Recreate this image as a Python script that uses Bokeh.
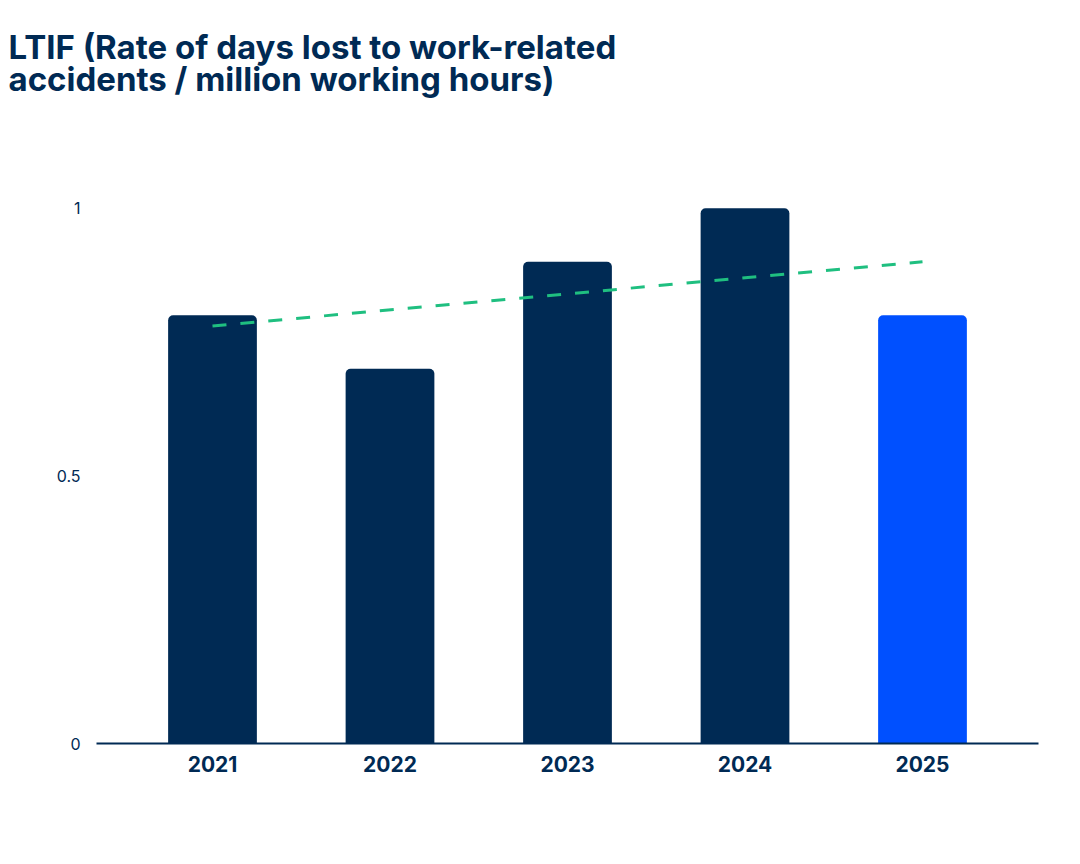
from bokeh.plotting import figure
from bokeh.models import FactorRange, Range1d, Title, FixedTicker, ColumnDataSource
from bokeh.embed import file_html
from bokeh.resources import INLINE

years = ["2021", "2022", "2023", "2024", "2025"]
ltif = [0.8, 0.7, 0.9, 1.0, 0.8]
bar_colors = ["#002a54", "#002a54", "#002a54", "#002a54", "#0050ff"]
trend_years = ["2021", "2025"]
trend_values = [0.78, 0.90]
y_ticks = [0, 0.5, 1]
title_lines = ["LTIF (Rate of days lost to work-related", "accidents / million working hours)"]

NAVY = "#002a54"

p = figure(
    width=1072, height=848,
    x_range=FactorRange(factors=years, range_padding=0.1535, range_padding_units="absolute"),
    y_range=Range1d(0, 1.19),
    output_backend="svg", toolbar_location=None,
    min_border_left=96, min_border_right=34, min_border_bottom=105, min_border_top=106,
)
p.outline_line_color = None
p.xgrid.grid_line_color = None
p.ygrid.grid_line_color = None

src = ColumnDataSource(dict(year=years, v=ltif, c=bar_colors))
p.vbar(x="year", top="v", width=0.5, source=src, fill_color="c", line_color=None,
       border_radius=(5, 5, 0, 0))

p.line(x=trend_years, y=trend_values, line_color="#1fbf80", line_width=3, line_dash="14 14")

# axes
p.xaxis.axis_line_color = NAVY
p.xaxis.axis_line_width = 2
p.xaxis.major_tick_line_color = None
p.xaxis.minor_tick_line_color = None
p.xaxis.major_tick_out = 0
p.xaxis.major_label_standoff = 12
p.xaxis.major_label_text_font = "Inter"
p.xaxis.major_label_text_font_style = "bold"
p.xaxis.major_label_text_font_size = "21px"
p.xaxis.major_label_text_color = NAVY

p.yaxis.ticker = FixedTicker(ticks=y_ticks)
p.yaxis.axis_line_color = None
p.yaxis.major_tick_line_color = None
p.yaxis.minor_tick_line_color = None
p.yaxis.major_tick_out = 0
p.yaxis.major_label_standoff = 16
p.yaxis.major_label_text_font = "Inter"
p.yaxis.major_label_text_font_style = "normal"
p.yaxis.major_label_text_font_size = "16px"
p.yaxis.major_label_text_color = NAVY

title = Title(text="\n".join(title_lines), text_font="Inter", text_font_size="33px",
              text_font_style="bold", text_color=NAVY, align="left", offset=-88, standoff=16,
              text_line_height=0.8)
p.add_layout(title, "above")

open("out.html", "w").write(file_html(p, INLINE))
